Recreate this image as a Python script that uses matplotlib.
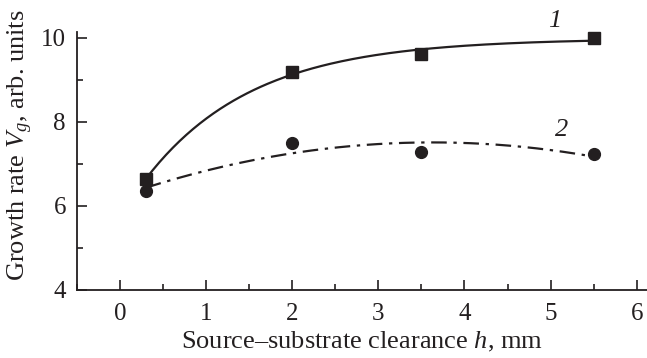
import numpy as np
import matplotlib
matplotlib.use("Agg")
import matplotlib.pyplot as plt
from matplotlib.ticker import MultipleLocator

# data
h_mm = [0.3, 2.0, 3.5, 5.5]
rate_1 = [6.64, 9.18, 9.61, 10.0]
rate_2 = [6.36, 7.49, 7.29, 7.23]

ink = "#231f20"
plt.rcParams["font.family"] = ["Liberation Serif", "DejaVu Serif"]
plt.rcParams["mathtext.fontset"] = "custom"
plt.rcParams["mathtext.rm"] = "Liberation Serif"
plt.rcParams["mathtext.it"] = "Liberation Serif:italic"

fig = plt.figure(figsize=(6.47, 3.58), dpi=100)
ax = fig.add_axes([77 / 647, 68 / 358, 570 / 647, 290 / 358])

x1 = np.array(h_mm)
y1 = np.array(rate_1)
y2 = np.array(rate_2)

# curve 1: saturating exponential A - B*exp(-x/c), c by grid search
best = None
for c in np.linspace(0.3, 5, 471):
    M = np.column_stack([np.ones_like(x1), -np.exp(-x1 / c)])
    coef, res, _, _ = np.linalg.lstsq(M, y1, rcond=None)
    err = np.sum((M @ coef - y1) ** 2)
    if best is None or err < best[0]:
        best = (err, c, coef)
_, c_fit, (A_fit, B_fit) = best
xs1 = np.linspace(0.3, 5.5, 200)
ax.plot(xs1, A_fit - B_fit * np.exp(-xs1 / c_fit), color=ink, lw=1.6)

# curve 2: quadratic fit
p2 = np.polyfit(x1, y2, 2)
xs2 = np.linspace(0.3, 5.4, 200)
ax.plot(xs2, np.polyval(p2, xs2), color=ink, lw=1.6,
        dashes=(7, 3, 1.5, 3))

ax.plot(h_mm, rate_1, "s", color=ink, ms=8)
ax.plot(h_mm, rate_2, "o", color=ink, ms=8.5)

ax.text(5.05, 10.25, "1", style="italic", fontsize=19, ha="center", color=ink)
ax.text(5.13, 7.67, "2", style="italic", fontsize=19, ha="center", color=ink)

ax.set_xlim(-0.5, 6.12)
ax.set_ylim(4, 10.9)
ax.spines["top"].set_visible(False)
ax.spines["right"].set_visible(False)
ax.spines["left"].set_bounds(4, 10.15)
for s in ("left", "bottom"):
    ax.spines[s].set_linewidth(1.3)
    ax.spines[s].set_color(ink)

ax.xaxis.set_major_locator(MultipleLocator(1))
ax.xaxis.set_minor_locator(MultipleLocator(0.5))
ax.yaxis.set_major_locator(MultipleLocator(2))
ax.yaxis.set_minor_locator(MultipleLocator(1))
ax.tick_params(which="both", direction="in", color=ink, width=1.2,
               labelsize=18, labelcolor=ink)
ax.tick_params(which="major", length=7)
ax.tick_params(which="minor", length=4)
ax.tick_params(axis="x", pad=9)
ax.tick_params(axis="y", pad=8)

ax.set_xlabel("Source–substrate clearance $h$, mm", fontsize=19, color=ink,
              labelpad=4)
ax.set_ylabel("Growth rate $V_g$, arb. units", fontsize=19, color=ink,
              labelpad=4)

fig.savefig("out.png", dpi=100)
